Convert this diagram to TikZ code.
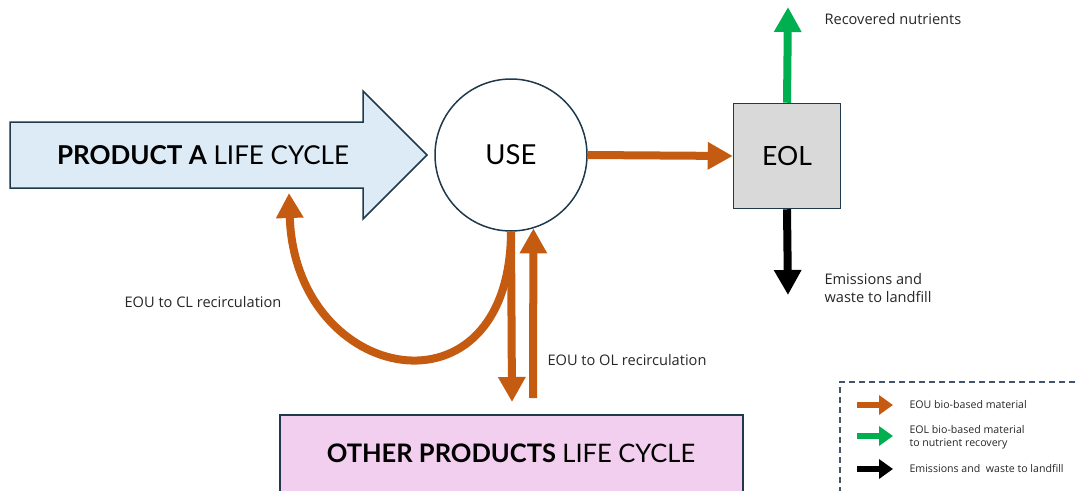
\documentclass[tikz,border=0pt]{standalone}
\usepackage{fontspec}
\setmainfont{Lato}
\newfontfamily\labelfont{Open Sans}
\usetikzlibrary{arrows.meta}
\definecolor{outline}{HTML}{1F3A4C}
\definecolor{lcblue}{HTML}{DDEBF7}
\definecolor{flowor}{HTML}{C55A11}
\definecolor{flowgr}{HTML}{00B050}
\definecolor{eolgray}{HTML}{D9D9D9}
\definecolor{lcpink}{HTML}{F2CEEF}
\definecolor{legdash}{HTML}{44546A}
\definecolor{txt}{HTML}{262626}
\begin{document}
\begin{tikzpicture}[x=1pt,y=-1pt,
  flow/.style={line width=8pt,-{Triangle[length=25pt,width=26pt]}},
  legflow/.style={line width=6pt,-{Triangle[length=14pt,width=19pt]}},
  bigtext/.style={font=\fontsize{26}{30}\selectfont,text=black},
  label/.style={font=\labelfont\fontsize{14.6}{18}\selectfont,text=txt},
  legtext/.style={font=\labelfont\fontsize{10.6}{13.5}\selectfont,text=txt,align=left,anchor=west},
  stage/.style={draw=outline,line width=1.5pt}]
\useasboundingbox (0,0) rectangle (1079,490);

% product A life cycle block arrow
\draw[stage,fill=lcblue,line join=miter]
  (10,122) -- (363,122) -- (363,91) -- (427,155) -- (363,219) -- (363,188) -- (10,188) -- cycle;
\node[bigtext] (prodA) at (203,155) {\textbf{PRODUCT A} LIFE CYCLE};
\coordinate (prodAin) at (289,193);

% use phase and end of life
\node[stage,circle,fill=white,minimum size=152pt,inner sep=0pt,
      font=\fontsize{27.5}{32}\selectfont] (use) at (511,155) {USE};
\node[stage,fill=eolgray,minimum width=107pt,minimum height=105pt,inner sep=0pt,
      font=\fontsize{26.5}{31}\selectfont] (eol) at (787,156) {EOL};

% other products life cycle
\node[stage,fill=lcpink,minimum width=463pt,minimum height=84pt,inner sep=0pt] (other) at (511.5,457) {};
\node[font=\fontsize{25.5}{30}\selectfont,text=black] (othertext) at (511,453) {\textbf{OTHER PRODUCTS} LIFE CYCLE};

% flows
\coordinate (nutr) at (788,7);
\coordinate (landfill) at (788,295);
\coordinate (olout) at (512,402);
\coordinate (olin) at (533,398);
\draw[flow,flowor] (use.east) -- (eol.west);
\draw[flow,flowgr] (eol.north) -- (nutr);
\draw[flow,black] (eol.south) -- (landfill);
\draw[flow,flowor] (use.-90) -- (olout);
\draw[flow,flowor] (olin) -- (use.-73);
\draw[flow,flowor] (use.-90) .. controls (510,425) and (295,385) .. (prodAin);

% flow labels
\node[label,anchor=west] (lnutr) at (821,19) {Recovered nutrients};
\node[label,anchor=north west,align=left] (lland) at (821,270) {Emissions and\\waste to landfill};
\node[label] (lcl) at (203,302) {EOU to CL recirculation};
\node[label,anchor=west] (lol) at (544,360) {EOU to OL recirculation};

% legend
\draw[legdash,line width=1.3pt,dash pattern=on 6pt off 4pt] (1085,382) -- (840,382) -- (840,500);
\coordinate (la1) at (857,405); \coordinate (lb1) at (893,405);
\coordinate (la2) at (857,436); \coordinate (lb2) at (893,436);
\coordinate (la3) at (857,469); \coordinate (lb3) at (893,469);
\draw[legflow,flowor] (la1) -- (lb1);
\draw[legflow,flowgr] (la2) -- (lb2);
\draw[legflow,black] (la3) -- (lb3);
\node[legtext] (lt1) at (906,405) {EOU bio-based material};
\node[legtext] (lt2) at (906,437) {EOL bio-based material\\to nutrient recovery};
\node[legtext] (lt3) at (906,468) {Emissions and\ \ waste to landfill};
\end{tikzpicture}
\end{document}
